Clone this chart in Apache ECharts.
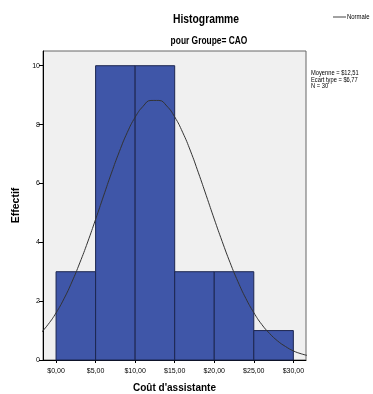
<!DOCTYPE html>
<html>
<head>
<meta charset="utf-8">
<script src="https://cdn.jsdelivr.net/npm/echarts@6/dist/echarts.min.js"></script>
<style>
html, body { margin: 0; padding: 0; background: #fff; }
#main { width: 373px; height: 394px; }
</style>
</head>
<body>
<div id="main"></div>
<script>
// classes de l'histogramme (bornes en $) et effectifs
var binStart = [0, 5, 10, 15, 20, 25];
var binEnd = [5, 10, 15, 20, 25, 30];
var counts = [3, 10, 10, 3, 3, 1];

// courbe normale
var curveX = [-2, -1, 0, 1, 2, 3, 4, 5, 6, 7, 8, 9, 10, 11, 12, 13, 14, 15, 16, 17, 18, 19, 20, 21, 22, 23, 24, 25, 26, 27, 28, 29, 30, 31, 32];
var curveY = [0.89, 1.21, 1.60, 2.08, 2.65, 3.30, 4.01, 4.78, 5.57, 6.35, 7.08, 7.73, 8.25, 8.62, 8.82, 8.82, 8.63, 8.26, 7.74, 7.10, 6.36, 5.58, 4.79, 4.03, 3.31, 2.66, 2.09, 1.61, 1.21, 0.90, 0.65, 0.46, 0.31, 0.21, 0.14];

var xTicks = [0, 5, 10, 15, 20, 25, 30];
var yTicks = [0, 2, 4, 6, 8, 10];

var font = '"Liberation Sans", Arial, sans-serif';

var barData = [];
for (var i = 0; i < counts.length; i++) {
	barData.push([binStart[i], binEnd[i], counts[i]]);
}
var lineData = [];
for (var j = 0; j < curveX.length; j++) {
	lineData.push([curveX[j], curveY[j]]);
}

var myChart = echarts.init(document.getElementById('main'));

var option = {
	animation: false,
	graphic: [{
		type: 'text', x: 206, y: 20, scaleX: 0.86,
		style: { text: 'Histogramme', font: 'bold 12px ' + font, fill: '#000', align: 'center', verticalAlign: 'middle' }
	}, {
		type: 'text', x: 209, y: 41, scaleX: 0.84,
		style: { text: 'pour Groupe= CAO', font: 'bold 10px ' + font, fill: '#000', align: 'center', verticalAlign: 'middle' }
	}, {
		type: 'line', shape: { x1: 333, y1: 17, x2: 346, y2: 17 },
		style: { stroke: '#444', lineWidth: 1 }
	}, {
		type: 'text', x: 347, y: 17, scaleX: 0.85,
		style: { text: 'Normale', font: '7px ' + font, fill: '#000', verticalAlign: 'middle' }
	}, {
		type: 'text', x: 311, y: 70, scaleX: 0.82,
		style: { text: 'Moyenne = $12,51\nEcart type = $6,77\nN = 30', font: '7px ' + font, fill: '#000', lineHeight: 6.5 }
	}],
	grid: {
		left: 43, top: 51, right: 67, bottom: 34,
		outerBoundsMode: 'none', containLabel: false,
		show: true, backgroundColor: '#f0f0f0', borderColor: '#666', borderWidth: 1
	},
	xAxis: {
		type: 'value', min: -1.65, max: 31.6,
		name: "Coût d'assistante", nameLocation: 'middle', nameGap: 23,
		nameTextStyle: { fontFamily: font, fontSize: 10, fontWeight: 'bold', color: '#000' },
		axisLine: { show: true, onZero: false, lineStyle: { color: '#000' } },
		axisTick: { show: true, customValues: xTicks, length: 3, lineStyle: { color: '#000' } },
		axisLabel: {
			customValues: xTicks, fontFamily: font, fontSize: 7, color: '#000', margin: 8,
			formatter: function(v) { return '$' + v.toFixed(2).replace('.', ','); }
		},
		splitLine: { show: false }
	},
	yAxis: {
		type: 'value', min: 0, max: 10.5,
		name: 'Effectif', nameLocation: 'middle', nameGap: 18, nameRotate: 90,
		nameTextStyle: { fontFamily: font, fontSize: 10.5, fontWeight: 'bold', color: '#000' },
		axisLine: { show: true, onZero: false, lineStyle: { color: '#000' } },
		axisTick: { show: true, customValues: yTicks, length: 4, lineStyle: { color: '#000' } },
		axisLabel: { customValues: yTicks, fontFamily: font, fontSize: 7, color: '#000', margin: 3 },
		splitLine: { show: false }
	},
	series: [{
		type: 'custom',
		data: barData,
		encode: { x: [0, 1], y: 2 },
		renderItem: function(params, api) {
			var p0 = api.coord([api.value(0), api.value(2)]);
			var p1 = api.coord([api.value(1), 0]);
			return {
				type: 'rect',
				shape: { x: p0[0], y: p0[1], width: p1[0] - p0[0], height: p1[1] - p0[1] },
				style: { fill: '#3f56a8', stroke: '#1c2650', lineWidth: 1 }
			};
		}
	}, {
		type: 'line',
		data: lineData,
		smooth: true,
		showSymbol: false,
		clip: true,
		lineStyle: { color: '#333', width: 1 },
		z: 5
	}]
};

myChart.setOption(option);
</script>
</body>
</html>
